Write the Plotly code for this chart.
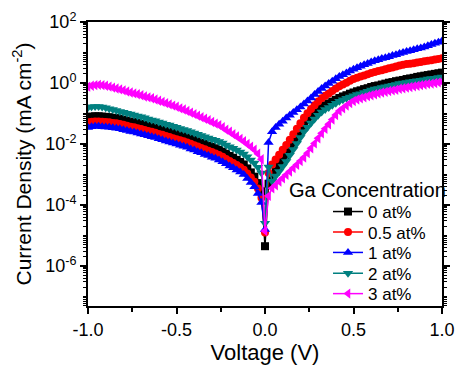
import plotly.graph_objects as go

# Voltage sweep (V), 0.02 V steps from -1.0 to 1.0
voltage = [round(-1 + 0.02 * i, 2) for i in range(101)]

# log10 of current density (mA cm^-2)
log_j_0 = [-1.12,-1.10,-1.09,-1.09,-1.10,-1.11,-1.12,-1.14,-1.15,-1.17,
           -1.20,-1.23,-1.26,-1.28,-1.31,-1.34,-1.37,-1.40,-1.43,-1.46,
           -1.50,-1.53,-1.57,-1.60,-1.64,-1.67,-1.71,-1.74,-1.78,-1.82,
           -1.87,-1.91,-1.96,-2.00,-2.05,-2.09,-2.14,-2.19,-2.25,-2.32,
           -2.39,-2.45,-2.52,-2.59,-2.67,-2.80,-2.93,-3.07,-3.28,-3.55,
           -5.35,
           -3.30,-3.10,-2.90,-2.72,-2.55,-2.38,-2.20,-2.00,-1.80,-1.60,
           -1.40,-1.22,-1.09,-0.98,-0.88,-0.79,-0.73,-0.67,-0.61,-0.55,
           -0.49,-0.44,-0.40,-0.35,-0.31,-0.27,-0.24,-0.20,-0.17,-0.13,
           -0.10,-0.08,-0.05,-0.02,0.01,0.03,0.06,0.08,0.10,0.13,
           0.15,0.17,0.20,0.22,0.24,0.26,0.28,0.30,0.32,0.34]
log_j_05 = [-1.29,-1.27,-1.26,-1.26,-1.27,-1.28,-1.29,-1.31,-1.32,-1.34,
            -1.37,-1.40,-1.43,-1.45,-1.48,-1.51,-1.54,-1.57,-1.60,-1.63,
            -1.67,-1.70,-1.74,-1.77,-1.81,-1.84,-1.88,-1.91,-1.95,-1.99,
            -2.04,-2.08,-2.13,-2.17,-2.22,-2.26,-2.31,-2.36,-2.42,-2.49,
            -2.56,-2.62,-2.69,-2.76,-2.84,-2.97,-3.10,-3.24,-3.46,-3.76,
            -4.90,
            -2.95,-2.67,-2.51,-2.35,-2.19,-2.03,-1.86,-1.68,-1.50,-1.32,
            -1.14,-0.99,-0.85,-0.73,-0.61,-0.50,-0.42,-0.34,-0.26,-0.18,
            -0.11,-0.05,0.01,0.07,0.13,0.17,0.21,0.25,0.29,0.33,
            0.36,0.39,0.42,0.45,0.48,0.51,0.54,0.57,0.60,0.62,
            0.63,0.65,0.67,0.69,0.71,0.73,0.75,0.77,0.79,0.81]
log_j_1 = [-1.46,-1.43,-1.42,-1.42,-1.43,-1.44,-1.45,-1.47,-1.48,-1.50,
           -1.53,-1.56,-1.59,-1.61,-1.64,-1.67,-1.70,-1.73,-1.76,-1.79,
           -1.83,-1.86,-1.90,-1.93,-1.97,-2.00,-2.04,-2.07,-2.11,-2.16,
           -2.20,-2.25,-2.29,-2.34,-2.38,-2.43,-2.47,-2.52,-2.58,-2.65,
           -2.72,-2.78,-2.85,-2.92,-3.00,-3.13,-3.26,-3.40,-3.62,-3.92,
           -4.80,
           -1.95,-1.60,-1.46,-1.35,-1.25,-1.15,-1.06,-0.97,-0.88,-0.79,
           -0.69,-0.59,-0.49,-0.38,-0.28,-0.18,-0.10,-0.02,0.06,0.14,
           0.21,0.27,0.33,0.39,0.45,0.50,0.55,0.60,0.64,0.69,
           0.73,0.76,0.80,0.83,0.86,0.90,0.93,0.97,1.00,1.03,
           1.06,1.09,1.12,1.15,1.18,1.22,1.26,1.30,1.34,1.38]
log_j_2 = [-0.80,-0.78,-0.77,-0.77,-0.79,-0.81,-0.84,-0.87,-0.90,-0.93,
           -0.96,-0.99,-1.02,-1.05,-1.08,-1.11,-1.14,-1.18,-1.21,-1.24,
           -1.28,-1.31,-1.35,-1.38,-1.42,-1.45,-1.49,-1.52,-1.56,-1.60,
           -1.64,-1.68,-1.72,-1.76,-1.80,-1.84,-1.88,-1.92,-1.97,-2.03,
           -2.09,-2.14,-2.20,-2.26,-2.33,-2.42,-2.52,-2.62,-2.76,-2.95,
           -4.60,
           -2.75,-3.22,-3.05,-2.90,-2.74,-2.57,-2.37,-2.18,-1.98,-1.79,
           -1.60,-1.45,-1.31,-1.18,-1.06,-0.95,-0.87,-0.80,-0.73,-0.66,
           -0.60,-0.55,-0.50,-0.46,-0.42,-0.38,-0.35,-0.31,-0.27,-0.23,
           -0.20,-0.18,-0.15,-0.12,-0.10,-0.07,-0.05,-0.02,0.00,0.02,
           0.04,0.06,0.07,0.09,0.11,0.13,0.15,0.16,0.18,0.20]
log_j_3 = [-0.12,-0.09,-0.07,-0.06,-0.07,-0.09,-0.12,-0.15,-0.18,-0.21,
           -0.24,-0.28,-0.31,-0.34,-0.37,-0.40,-0.44,-0.47,-0.50,-0.54,
           -0.58,-0.62,-0.66,-0.70,-0.74,-0.78,-0.83,-0.87,-0.92,-0.97,
           -1.02,-1.07,-1.12,-1.17,-1.22,-1.28,-1.33,-1.38,-1.45,-1.53,
           -1.60,-1.68,-1.75,-1.83,-1.91,-2.00,-2.09,-2.19,-2.32,-2.50,
           -4.85,
           -3.70,-3.45,-3.35,-3.23,-3.12,-3.01,-2.90,-2.79,-2.68,-2.56,
           -2.44,-2.30,-2.14,-1.98,-1.81,-1.65,-1.50,-1.35,-1.20,-1.05,
           -0.92,-0.83,-0.74,-0.66,-0.59,-0.54,-0.50,-0.47,-0.43,-0.40,
           -0.37,-0.34,-0.31,-0.29,-0.26,-0.24,-0.22,-0.19,-0.17,-0.15,
           -0.13,-0.11,-0.09,-0.07,-0.05,-0.03,-0.02,0.00,0.02,0.04]

series_names = ["0 at%", "0.5 at%", "1 at%", "2 at%", "3 at%"]
series_logs = [log_j_0, log_j_05, log_j_1, log_j_2, log_j_3]
series_colors = ["#000000", "#FF0000", "#0000FF", "#008080", "#FF00FF"]
series_symbols = ["square", "circle", "triangle-up", "triangle-down", "triangle-left"]
series_msize = [8, 8, 9, 9, 9]

x_tick_vals = [-1.0, -0.5, 0.0, 0.5, 1.0]
x_tick_text = ["-1.0", "-0.5", "0.0", "0.5", "1.0"]
y_exponents = [-6, -4, -2, 0, 2]

FONT = "Arial, Liberation Sans, sans-serif"

# one legend box per entry so the entry spacing matches the original
legend_ids = ["legend", "legend2", "legend3", "legend4", "legend5"]
legend_y = [0.331, 0.259, 0.187, 0.114, 0.042]

fig = go.Figure()
for name, logs, color, sym, ms, lid in zip(series_names, series_logs, series_colors,
                                           series_symbols, series_msize, legend_ids):
    fig.add_trace(go.Scatter(
        x=voltage, y=[10 ** v for v in logs], name=name, mode="lines+markers",
        line=dict(color=color, width=1.5),
        marker=dict(symbol=sym, size=ms, color=color, line=dict(width=0)),
        legend=lid,
    ))

y_minor = []
for k in range(-8, 2):
    for m in range(1, 10):
        val = m * 10.0 ** k
        if m == 1 and k % 2 == 0:
            continue
        y_minor.append(val)

legend_layouts = {}
for lid, ly in zip(legend_ids, legend_y):
    legend_layouts[lid] = dict(x=0.678, y=ly, xanchor="left", yanchor="middle",
                               bgcolor="rgba(0,0,0,0)",
                               font=dict(size=17, family=FONT), itemwidth=30)

fig.update_layout(
    width=457, height=365,
    margin=dict(l=88, r=15, t=22, b=59, autoexpand=False),
    paper_bgcolor="white", plot_bgcolor="white",
    font=dict(family=FONT, color="black"),
    showlegend=True,
    xaxis=dict(range=[-1, 1], tickvals=x_tick_vals, ticktext=x_tick_text,
               automargin=False,
               showline=True, linecolor="black", linewidth=2, mirror=True,
               ticks="outside", ticklen=6, tickwidth=1.5, tickcolor="black",
               tickfont=dict(size=18), showgrid=False, zeroline=False,
               minor=dict(tickvals=[-0.75, -0.25, 0.25, 0.75], ticks="outside",
                          ticklen=4, tickwidth=1.5, tickcolor="black"),
               title=dict(text="Voltage (V)", font=dict(size=22), standoff=6)),
    yaxis=dict(type="log", range=[-7.31, 2], automargin=False,
               tickvals=[10.0 ** e for e in y_exponents],
               ticktext=["10<sup>%d</sup>" % e for e in y_exponents],
               showline=True, linecolor="black", linewidth=2, mirror="ticks",
               ticks="outside", ticklen=6, tickwidth=1.5, tickcolor="black",
               tickfont=dict(size=18), showgrid=False, zeroline=False,
               minor=dict(tickvals=y_minor, ticks="outside", ticklen=3,
                          tickwidth=1, tickcolor="black"),
               title=dict(text="Current Density (mA cm<sup>-2</sup>)",
                          font=dict(size=21), standoff=8)),
    annotations=[dict(text="Ga Concentration", xref="paper", yref="paper",
                      x=0.562, y=0.408, xanchor="left", yanchor="middle",
                      showarrow=False, font=dict(size=20, family=FONT))],
    **legend_layouts,
)

fig.write_html("out.html")
